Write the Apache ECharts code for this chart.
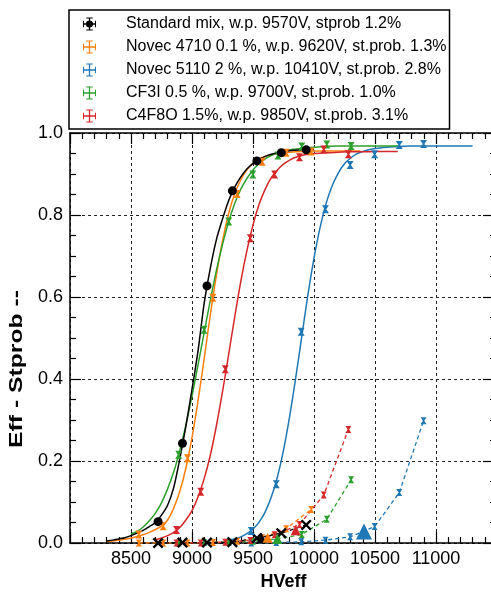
<!DOCTYPE html>
<html>
<head>
<meta charset="UTF-8">
<title>Eff - Stprob vs HVeff</title>
<script src="https://cdn.jsdelivr.net/npm/echarts@6/dist/echarts.min.js"></script>
<style>
  html, body { margin: 0; padding: 0; background: #fff; }
  #chart { width: 491px; height: 592px; }
</style>
</head>
<body>
<div id="chart"></div>
<script>
// tick labels
var xTickLabels = [8500, 9000, 9500, 10000, 10500, 11000];
var yTickLabels = ['0.0', '0.2', '0.4', '0.6', '0.8', '1.0'];

var legendNames = [
  'Standard mix, w.p. 9570V, stprob 1.2%',
  'Novec 4710 0.1 %, w.p. 9620V, st.prob. 1.3%',
  'Novec 5110 2 %, w.p. 10410V, st.prob. 2.8%',
  'CF3I 0.5 %, w.p. 9700V, st.prob. 1.0%',
  'C4F8O 1.5%, w.p. 9850V, st.prob. 3.1%'
];

// Standard mix
var stdHV      = [8722, 8922, 9123, 9331, 9532, 9732, 9936];
var stdEff     = [0.052, 0.243, 0.627, 0.859, 0.932, 0.952, 0.959];
var stdStprob  = [0.000, 0.001, 0.001, 0.002, 0.012, 0.024, 0.044];
var stdFitHV   = [8300, 8350, 8400, 8450, 8500, 8550, 8600, 8650, 8700, 8750, 8800, 8850, 8900, 8950, 9000, 9050, 9100, 9150, 9200, 9250,
                  9300, 9350, 9400, 9450, 9500, 9550, 9600, 9650, 9700, 9750, 9800, 9850, 9900, 9950, 10000];
var stdFitEff  = [0.005, 0.007, 0.010, 0.013, 0.018, 0.024, 0.031, 0.040, 0.050, 0.068, 0.092, 0.135, 0.205, 0.285, 0.375, 0.47, 0.585, 0.67, 0.74, 0.79,
                  0.835, 0.868, 0.893, 0.912, 0.926, 0.936, 0.943, 0.948, 0.952, 0.955, 0.957, 0.958, 0.959, 0.96, 0.96];

// Novec 4710
var n47HV      = [8564, 8764, 8963, 9172, 9371, 9576, 9772, 9977];
var n47Eff     = [0.021, 0.041, 0.207, 0.598, 0.851, 0.930, 0.952, 0.955];
var n47Stprob  = [0.000, 0.000, 0.000, 0.001, 0.004, 0.013, 0.035, 0.082];
var n47FitHV   = [8300, 8350, 8400, 8450, 8500, 8550, 8600, 8650, 8700, 8750, 8800, 8850, 8900, 8950, 9000, 9050, 9100, 9150, 9200, 9250,
                  9300, 9350, 9400, 9450, 9500, 9550, 9600, 9650, 9700, 9750, 9800, 9850, 9900, 10000, 10100, 10200, 10300, 10380];
var n47FitEff  = [0.004, 0.005, 0.007, 0.009, 0.012, 0.016, 0.020, 0.026, 0.033, 0.041, 0.056, 0.085, 0.126, 0.183, 0.257, 0.348, 0.45, 0.556, 0.653, 0.737,
                  0.803, 0.852, 0.886, 0.91, 0.926, 0.936, 0.943, 0.947, 0.950, 0.952, 0.953, 0.954, 0.955, 0.956, 0.956, 0.956, 0.956, 0.956];

// Novec 5110
var n51HV      = [9486, 9691, 9895, 10094, 10296, 10497, 10699, 10898];
var n51Eff     = [0.029, 0.143, 0.515, 0.814, 0.922, 0.948, 0.971, 0.973];
var n51Stprob  = [0.000, 0.001, 0.003, 0.007, 0.015, 0.040, 0.123, 0.298];
var n51FitHV   = [9300, 9350, 9400, 9450, 9500, 9550, 9600, 9650, 9700, 9750, 9800, 9850, 9900, 9950, 10000, 10050, 10100, 10150, 10200, 10250,
                  10300, 10350, 10400, 10450, 10500, 10600, 10700, 10800, 10900, 11000, 11100, 11200, 11300];
var n51FitEff  = [0.0065, 0.0099, 0.015, 0.023, 0.034, 0.051, 0.076, 0.112, 0.161, 0.226, 0.308, 0.403, 0.504, 0.605, 0.695, 0.770, 0.829, 0.872, 0.903, 0.925,
                  0.939, 0.949, 0.955, 0.959, 0.962, 0.965, 0.967, 0.968, 0.968, 0.968, 0.968, 0.968, 0.968];

// CF3I
var cfHV       = [8891, 9099, 9301, 9499, 9704, 9900, 10105, 10304];
var cfEff      = [0.215, 0.52, 0.784, 0.899, 0.945, 0.967, 0.972, 0.968];
var cfStprob   = [0.000, 0.001, 0.002, 0.004, 0.010, 0.021, 0.058, 0.154];
var cfFitHV    = [8500, 8550, 8600, 8650, 8700, 8750, 8800, 8850, 8900, 8950, 9000, 9050, 9100, 9150, 9200, 9250, 9300, 9350, 9400, 9450,
                  9500, 9550, 9600, 9650, 9700, 9750, 9800, 9900, 10000, 10100, 10200, 10300, 10400, 10500, 10600, 10700];
var cfFitEff   = [0.022, 0.028, 0.039, 0.054, 0.073, 0.098, 0.132, 0.173, 0.226, 0.288, 0.358, 0.435, 0.514, 0.592, 0.665, 0.728, 0.783, 0.828, 0.863, 0.889,
                  0.910, 0.925, 0.937, 0.945, 0.952, 0.956, 0.959, 0.963, 0.965, 0.967, 0.968, 0.968, 0.968, 0.968, 0.968, 0.968];

// C4F8O
var c4HV       = [8873, 9072, 9273, 9478, 9677, 9881, 10080, 10282];
var c4Eff      = [0.032, 0.125, 0.424, 0.743, 0.899, 0.941, 0.960, 0.948];
var c4Stprob   = [0.000, 0.000, 0.002, 0.006, 0.020, 0.045, 0.117, 0.277];
var c4FitHV    = [8700, 8750, 8800, 8850, 8900, 8950, 9000, 9050, 9100, 9150, 9200, 9250, 9300, 9350, 9400, 9450, 9500, 9550, 9600, 9650,
                  9700, 9750, 9800, 9850, 9900, 9950, 10000, 10100, 10200, 10300, 10400, 10500, 10600, 10686];
var c4FitEff   = [0.008, 0.012, 0.018, 0.026, 0.038, 0.056, 0.079, 0.113, 0.157, 0.214, 0.286, 0.369, 0.459, 0.551, 0.638, 0.713, 0.776, 0.826, 0.863, 0.891,
                  0.910, 0.924, 0.934, 0.941, 0.945, 0.948, 0.950, 0.952, 0.953, 0.954, 0.954, 0.955, 0.955, 0.955];

// working points (HV, streamer prob.)
var wpHV     = [9570, 9620, 10410, 9700, 9850];
var wpStprob = [0.012, 0.013, 0.028, 0.010, 0.031];

var colors = ['#000000', '#ff7f0e', '#1f77b4', '#2ca02c', '#d62728'];

function zip(xs, ys) {
  return xs.map(function (x, i) { return [x, ys[i]]; });
}

var cross = 'path://M0,9H20V11H0Z M9,0H11V20H9Z M0,5H1.6V15H0Z M18.4,5H20V15H18.4Z M5,0H15V1.6H5Z M5,18.4H15V20H5Z';
var crossDot = cross + ' M10,4.5A5.5,5.5,0,1,1,9.99,4.5Z';
var hourglass = 'path://M0,0H10L6.2,5L10,10H0L3.8,5Z';
var xMark = 'path://M0,1.5L1.5,0L5,3.5L8.5,0L10,1.5L6.5,5L10,8.5L8.5,10L5,6.5L1.5,10L0,8.5L3.5,5Z';

var sets = [
  { hv: stdHV, eff: stdEff, st: stdStprob, fx: stdFitHV, fy: stdFitEff },
  { hv: n47HV, eff: n47Eff, st: n47Stprob, fx: n47FitHV, fy: n47FitEff },
  { hv: n51HV, eff: n51Eff, st: n51Stprob, fx: n51FitHV, fy: n51FitEff },
  { hv: cfHV,  eff: cfEff,  st: cfStprob,  fx: cfFitHV,  fy: cfFitEff },
  { hv: c4HV,  eff: c4Eff,  st: c4Stprob,  fx: c4FitHV,  fy: c4FitEff }
];

var series = [];
var order = [1, 2, 3, 4, 0];
// fit curves
order.forEach(function (i) {
  var s = sets[i];
  series.push({
    name: 'fit' + i, type: 'line', smooth: 0.3,
    symbol: 'none', data: zip(s.fx, s.fy), silent: true, z: 2,
    lineStyle: { color: colors[i], width: 1.5 }
  });
});
// streamer probability (dashed)
order.forEach(function (i) {
  var s = sets[i];
  series.push({
    name: 'st' + i, type: 'line', data: zip(s.hv, s.st), z: 3,
    symbol: i === 0 ? xMark : hourglass, symbolSize: i === 0 ? 11 : [6, 7],
    itemStyle: { color: colors[i] },
    lineStyle: { color: colors[i], width: 1.3, type: [4, 3] }
  });
});
// efficiency points
order.forEach(function (i) {
  var s = sets[i];
  series.push({
    name: legendNames[i], type: 'scatter', data: zip(s.hv, s.eff), z: 4,
    symbol: i === 0 ? 'circle' : hourglass, symbolSize: i === 0 ? 9 : [7, 8],
    itemStyle: { color: colors[i], opacity: 1 }
  });
});
// working points
wpHV.forEach(function (x, i) {
  series.push({
    name: 'wp' + i, type: 'scatter', data: [[x, wpStprob[i]]], z: 5,
    symbol: 'triangle', symbolSize: i === 2 ? 16 : 10,
    itemStyle: { color: colors[i], opacity: 1 }
  });
});

var chart = echarts.init(document.getElementById('chart'));
var tickStyle = { color: '#000', width: 1.2 };
chart.setOption({
  animation: false,
  textStyle: { fontFamily: 'Liberation Sans, Arial, sans-serif' },
  grid: { left: 70, right: -6, top: 133, bottom: 49, containLabel: false, outerBoundsMode: 'none' },
  legend: {
    orient: 'vertical', left: 69, top: 10,
    itemWidth: 13, itemHeight: 13, itemGap: 7,
    padding: [6, 3, 5, 14],
    borderColor: '#000', borderWidth: 1.5, backgroundColor: '#fff',
    selectedMode: false,
    textStyle: { fontSize: 16, color: '#000', lineHeight: 16, padding: [0, 0, 0, 25] },
    data: legendNames.map(function (n, i) { return { name: n, icon: i === 0 ? crossDot : cross }; })
  },
  xAxis: [{
    type: 'value', min: 8000, max: 11500, interval: 500, position: 'bottom',
    axisLine: { onZero: false, lineStyle: { color: '#000', width: 1.5 } },
    axisTick: { inside: true, length: 11, lineStyle: tickStyle },
    minorTick: { show: true, splitNumber: 5, length: 6, lineStyle: tickStyle },
    splitLine: { show: true, lineStyle: { color: '#222', type: [3, 3], width: 1 } },
    axisLabel: {
      fontSize: 18, color: '#000', margin: 7,
      formatter: function (v) { return xTickLabels.indexOf(v) >= 0 ? String(v) : ''; }
    },
    name: 'HVeff', nameLocation: 'middle', nameGap: 30,
    nameTextStyle: { fontSize: 18, fontWeight: 'bold', color: '#000' }
  }, {
    type: 'value', min: 8000, max: 11500, interval: 500, position: 'top',
    axisLine: { onZero: false, lineStyle: { color: '#000', width: 1.5 } },
    axisTick: { inside: true, length: 11, lineStyle: tickStyle },
    minorTick: { show: true, splitNumber: 5, length: 6, lineStyle: tickStyle },
    splitLine: { show: false }, axisLabel: { show: false }
  }],
  yAxis: [{
    type: 'value', min: 0, max: 1, interval: 0.2, position: 'left',
    axisLine: { show: true, onZero: false, lineStyle: { color: '#000', width: 1.5 } },
    axisTick: { show: true, inside: true, length: 11, lineStyle: tickStyle },
    minorTick: { show: true, splitNumber: 4, length: 6, lineStyle: tickStyle },
    splitLine: { show: true, lineStyle: { color: '#222', type: [3, 3], width: 1 } },
    axisLabel: {
      fontSize: 18, color: '#000', margin: 7,
      formatter: function (v) { return yTickLabels[Math.round(v / 0.2)]; }
    }
  }, {
    type: 'value', min: 0, max: 1, interval: 0.2, position: 'right',
    axisLine: { show: true, onZero: false, lineStyle: { color: '#000', width: 1.5 } },
    axisTick: { show: true, inside: true, length: 14, lineStyle: tickStyle },
    minorTick: { show: true, splitNumber: 4, length: 7, lineStyle: tickStyle },
    splitLine: { show: false }, axisLabel: { show: false }
  }],
  graphic: [{
    type: 'text', x: 17, y: 369, rotation: Math.PI / 2, scaleX: 1.3,
    style: {
      text: 'Eff - Stprob --', font: 'bold 19px Liberation Sans, Arial, sans-serif',
      fill: '#000', align: 'center', verticalAlign: 'middle'
    }
  }],
  series: series
});
</script>
</body>
</html>
